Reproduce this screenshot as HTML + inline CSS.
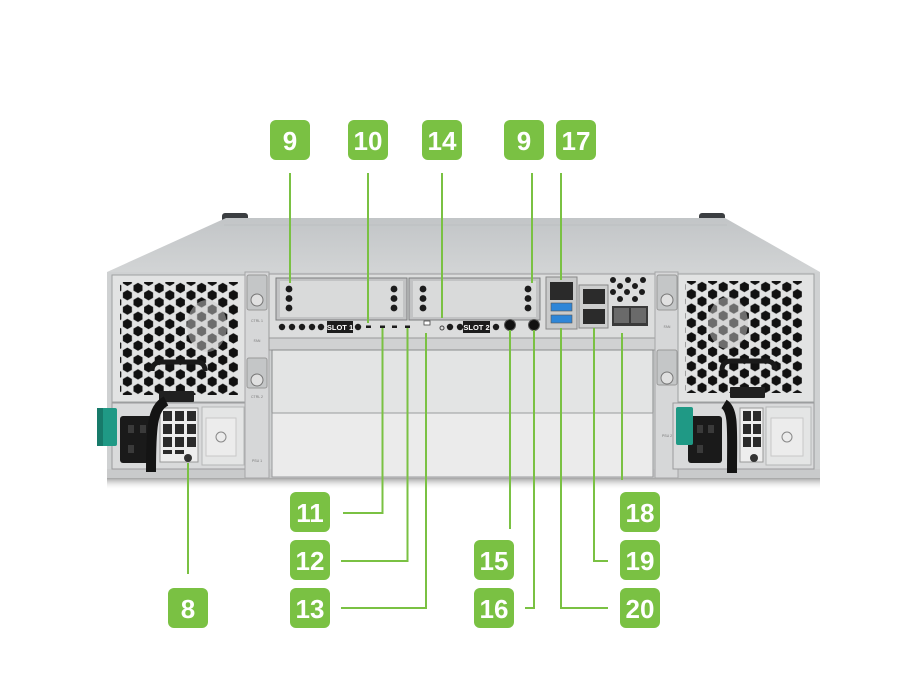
<!DOCTYPE html>
<html><head><meta charset="utf-8">
<style>
html,body{margin:0;padding:0;background:#fff;}
svg{display:block;}
.n{font-family:"Liberation Sans",sans-serif;font-weight:bold;font-size:26px;fill:#fff;text-anchor:middle;}
.t{font-family:"Liberation Sans",sans-serif;font-size:3.5px;fill:#777;text-anchor:middle;}
.s{font-family:"Liberation Sans",sans-serif;font-weight:bold;font-size:7.5px;fill:#fff;text-anchor:middle;}
.g{stroke:#7ac143;stroke-width:2;fill:none;}
</style></head><body>
<svg width="920" height="690" viewBox="0 0 920 690" xmlns="http://www.w3.org/2000/svg">
<defs>
<linearGradient id="lid" x1="0" y1="0" x2="0" y2="1">
 <stop offset="0" stop-color="#c2c5c7"/><stop offset="1" stop-color="#d2d4d5"/>
</linearGradient>
<linearGradient id="shadow" x1="0" y1="0" x2="0" y2="1">
 <stop offset="0" stop-color="#666" stop-opacity="0.6"/><stop offset="1" stop-color="#fff" stop-opacity="0"/>
</linearGradient>
<pattern id="hexL" patternUnits="userSpaceOnUse" x="132.7" y="284.4" width="21.2" height="14.4">
 <g fill="#111">
 <polygon points="0,-5.2 4.5,-2.6 4.5,2.6 0,5.2 -4.5,2.6 -4.5,-2.6" transform="translate(5.3,3.6)"/>
 <polygon points="0,-5.2 4.5,-2.6 4.5,2.6 0,5.2 -4.5,2.6 -4.5,-2.6" transform="translate(5.3,18)"/>
 <polygon points="0,-5.2 4.5,-2.6 4.5,2.6 0,5.2 -4.5,2.6 -4.5,-2.6" transform="translate(15.9,10.8)"/>
 <polygon points="0,-5.2 4.5,-2.6 4.5,2.6 0,5.2 -4.5,2.6 -4.5,-2.6" transform="translate(15.9,-3.6)"/>
 </g>
</pattern>
<pattern id="hexR" patternUnits="userSpaceOnUse" x="696.7" y="283.4" width="21.2" height="14.4">
 <g fill="#111">
 <polygon points="0,-5.2 4.5,-2.6 4.5,2.6 0,5.2 -4.5,2.6 -4.5,-2.6" transform="translate(5.3,3.6)"/>
 <polygon points="0,-5.2 4.5,-2.6 4.5,2.6 0,5.2 -4.5,2.6 -4.5,-2.6" transform="translate(5.3,18)"/>
 <polygon points="0,-5.2 4.5,-2.6 4.5,2.6 0,5.2 -4.5,2.6 -4.5,-2.6" transform="translate(15.9,10.8)"/>
 <polygon points="0,-5.2 4.5,-2.6 4.5,2.6 0,5.2 -4.5,2.6 -4.5,-2.6" transform="translate(15.9,-3.6)"/>
 </g>
</pattern>
</defs>

<rect width="920" height="690" fill="#fff"/>

<!-- lid -->
<rect x="222" y="213" width="26" height="12" rx="3" fill="#3b3e41"/>
<rect x="699" y="213" width="26" height="12" rx="3" fill="#3b3e41"/>
<polygon points="226,218 725,218 820,272 107,272" fill="url(#lid)"/>
<line x1="224" y1="225" x2="727" y2="225" stroke="#bcbfc1" stroke-width="1"/>

<!-- face -->
<rect x="107" y="272" width="713" height="206" fill="#cfd1d2"/>
<rect x="107" y="478" width="713" height="12" fill="url(#shadow)"/>
<rect x="107" y="469" width="713" height="9" fill="#c9cacb"/>

<!-- left fan module -->
<rect x="112" y="275" width="133" height="127" fill="#e2e3e3" stroke="#9fa1a2"/>
<rect x="120" y="282" width="118" height="113" fill="url(#hexL)"/>
<ellipse cx="207" cy="326" rx="20" ry="26" fill="#c9c9c9" opacity="0.5"/>
<path d="M152,371 Q152,362 162,362 L196,362 Q205,362 205,371" stroke="#1a1a1a" stroke-width="5" fill="none"/>
<rect x="159" y="391" width="35" height="11" rx="1" fill="#202020"/>

<!-- left PSU -->
<rect x="112" y="403" width="135" height="66" fill="#d9dadb" stroke="#9a9b9c"/>
<rect x="97" y="408" width="20" height="38" rx="2" fill="#1f9985"/>
<rect x="97" y="408" width="6" height="38" fill="#177a6a"/>
<rect x="120" y="416" width="36" height="47" rx="3" fill="#1a1a1a"/>
<rect x="128" y="425" width="6" height="8" fill="#3a3a3a"/>
<rect x="140" y="425" width="6" height="8" fill="#3a3a3a"/>
<rect x="128" y="445" width="6" height="8" fill="#3a3a3a"/>
<rect x="160" y="408" width="38" height="54" fill="#eeeeee" stroke="#999"/>
<g fill="#2b2b2b">
<rect x="163" y="411" width="9" height="10"/><rect x="175" y="411" width="9" height="10"/><rect x="187" y="411" width="9" height="10"/>
<rect x="163" y="424" width="9" height="10"/><rect x="175" y="424" width="9" height="10"/><rect x="187" y="424" width="9" height="10"/>
<rect x="163" y="437" width="9" height="10"/><rect x="175" y="437" width="9" height="10"/><rect x="187" y="437" width="9" height="10"/>
<rect x="163" y="450" width="9" height="4"/><rect x="175" y="450" width="9" height="4"/>
</g>
<path d="M166,401 C152,408 151,428 151,472" stroke="#141414" stroke-width="10" fill="none"/>
<circle cx="188" cy="458" r="4" fill="#333"/>
<rect x="202" y="407" width="42" height="58" fill="#e4e5e5" stroke="#b5b6b7"/>
<rect x="206" y="418" width="30" height="38" fill="#ececec" stroke="#c8c8c8"/>
<circle cx="221" cy="437" r="5" fill="none" stroke="#888"/>

<!-- left strip -->
<rect x="245" y="272" width="24" height="206" fill="#d6d7d8" stroke="#a5a6a7"/>
<rect x="247" y="275" width="20" height="35" rx="2" fill="#c4c6c7" stroke="#999"/>
<circle cx="257" cy="300" r="6" fill="#e0e0e0" stroke="#777"/>
<rect x="247" y="358" width="20" height="30" rx="2" fill="#c4c6c7" stroke="#999"/>
<circle cx="257" cy="380" r="6" fill="#e0e0e0" stroke="#777"/>
<text class="t" x="257" y="322">CTRL 1</text>
<text class="t" x="257" y="342">FAN</text>
<text class="t" x="257" y="398">CTRL 2</text>
<text class="t" x="257" y="462">PSU 1</text>

<!-- controller area -->
<rect x="269" y="274" width="386" height="64" fill="#dcdddd" stroke="#9b9c9d"/>
<rect x="276" y="278" width="131" height="42" fill="#c2c3c4" stroke="#7d7e7f"/>
<rect x="280" y="281" width="123" height="36" fill="#d9dada"/>
<rect x="409" y="278" width="131" height="42" fill="#c2c3c4" stroke="#7d7e7f"/>
<rect x="413" y="281" width="123" height="36" fill="#d9dada"/>
<g fill="#1c1c1c">
<circle cx="289" cy="289" r="3.4"/><circle cx="289" cy="298.5" r="3.4"/><circle cx="289" cy="308" r="3.4"/>
<circle cx="394" cy="289" r="3.4"/><circle cx="394" cy="298.5" r="3.4"/><circle cx="394" cy="308" r="3.4"/>
<circle cx="423" cy="289" r="3.4"/><circle cx="423" cy="298.5" r="3.4"/><circle cx="423" cy="308" r="3.4"/>
<circle cx="528" cy="289" r="3.4"/><circle cx="528" cy="298.5" r="3.4"/><circle cx="528" cy="308" r="3.4"/>
<circle cx="282" cy="327" r="3.2"/><circle cx="292" cy="327" r="3.2"/><circle cx="302" cy="327" r="3.2"/><circle cx="312" cy="327" r="3.2"/><circle cx="321" cy="327" r="3.2"/>
<circle cx="358" cy="327" r="3.2"/>
<circle cx="450" cy="327" r="3.2"/><circle cx="460" cy="327" r="3.2"/><circle cx="496" cy="327" r="3.2"/>
<rect x="366" y="325.5" width="5" height="2.5"/><rect x="380" y="325.5" width="5" height="2.5"/><rect x="392" y="325.5" width="5" height="2.5"/><rect x="405" y="325.5" width="5" height="2.5"/>
</g>
<rect x="327" y="321" width="26" height="12" fill="#1c1c1c"/>
<text class="s" x="340" y="330">SLOT 1</text>
<rect x="463" y="321" width="27" height="12" fill="#1c1c1c"/>
<text class="s" x="476.5" y="330">SLOT 2</text>
<rect x="424" y="321" width="6" height="4" fill="#fff" stroke="#444" stroke-width="0.8"/>
<circle cx="442" cy="328" r="2" fill="none" stroke="#444"/>
<circle cx="510" cy="325" r="5.5" fill="#111" stroke="#555"/>
<circle cx="534" cy="325" r="5.5" fill="#111" stroke="#555"/>

<!-- ports -->
<rect x="546" y="277" width="31" height="52" fill="#c9caca" stroke="#888"/>
<rect x="550" y="282" width="23" height="18" fill="#2a2a2a"/>
<rect x="551" y="303" width="21" height="8" fill="#2e86d8" stroke="#555" stroke-width="0.6"/>
<rect x="551" y="315" width="21" height="8" fill="#2e86d8" stroke="#555" stroke-width="0.6"/>
<rect x="579" y="285" width="29" height="43" fill="#cdcece" stroke="#888"/>
<rect x="583" y="289" width="22" height="15" fill="#2b2b2b"/>
<rect x="583" y="309" width="22" height="15" fill="#2b2b2b"/>
<rect x="612" y="306" width="36" height="20" fill="#3a3a3a"/>
<rect x="614" y="308" width="15" height="15" fill="#6a6a6a"/>
<rect x="631" y="308" width="15" height="15" fill="#6a6a6a"/>
<g fill="#1c1c1c">
<circle cx="613" cy="280" r="3"/><circle cx="628" cy="280" r="3"/><circle cx="643" cy="280" r="3"/>
<circle cx="620" cy="286" r="3"/><circle cx="635" cy="286" r="3"/>
<circle cx="627" cy="292" r="3"/><circle cx="642" cy="292" r="3"/><circle cx="613" cy="292" r="3"/>
<circle cx="620" cy="299" r="3"/><circle cx="635" cy="299" r="3"/>
</g>

<!-- rail and panels -->
<rect x="269" y="338" width="386" height="12" fill="#d0d1d2" stroke="#999"/>
<rect x="272" y="350" width="381" height="63" fill="#e3e4e4" stroke="#8a8b8c"/>
<rect x="272" y="413" width="381" height="64" fill="#ebebeb" stroke="#9a9b9c"/>

<!-- right strip -->
<rect x="655" y="272" width="23" height="206" fill="#d6d7d8" stroke="#a5a6a7"/>
<rect x="657" y="275" width="20" height="35" rx="2" fill="#c4c6c7" stroke="#999"/>
<circle cx="667" cy="300" r="6" fill="#e0e0e0" stroke="#777"/>
<rect x="657" y="350" width="20" height="35" rx="2" fill="#c4c6c7" stroke="#999"/>
<circle cx="667" cy="378" r="6" fill="#e0e0e0" stroke="#777"/>
<text class="t" x="667" y="328">FAN</text>
<text class="t" x="667" y="437">PSU 2</text>

<!-- right fan module -->
<rect x="678" y="274" width="136" height="128" fill="#e2e3e3" stroke="#9fa1a2"/>
<rect x="685" y="281" width="117" height="112" fill="url(#hexR)"/>
<ellipse cx="728" cy="323" rx="20" ry="26" fill="#c9c9c9" opacity="0.5"/>
<path d="M722,370 Q722,361 732,361 L766,361 Q775,361 775,370" stroke="#1a1a1a" stroke-width="5" fill="none"/>
<rect x="730" y="387" width="35" height="11" rx="1" fill="#202020"/>

<!-- right PSU -->
<rect x="673" y="403" width="141" height="66" fill="#d9dadb" stroke="#9a9b9c"/>
<rect x="688" y="416" width="34" height="47" rx="3" fill="#1a1a1a"/>
<rect x="697" y="425" width="6" height="8" fill="#3a3a3a"/>
<rect x="708" y="425" width="6" height="8" fill="#3a3a3a"/>
<rect x="697" y="445" width="6" height="8" fill="#3a3a3a"/>
<rect x="676" y="407" width="17" height="38" rx="2" fill="#1f9985"/>
<rect x="740" y="408" width="23" height="54" fill="#eeeeee" stroke="#999"/>
<g fill="#2b2b2b">
<rect x="743" y="411" width="8" height="10"/><rect x="753" y="411" width="8" height="10"/>
<rect x="743" y="424" width="8" height="10"/><rect x="753" y="424" width="8" height="10"/>
<rect x="743" y="437" width="8" height="10"/><rect x="753" y="437" width="8" height="10"/>
</g>
<path d="M724,404 C734,410 732,430 732,473" stroke="#141414" stroke-width="10" fill="none"/>
<circle cx="754" cy="458" r="4" fill="#333"/>
<rect x="766" y="407" width="45" height="58" fill="#e4e5e5" stroke="#b5b6b7"/>
<rect x="771" y="418" width="32" height="38" fill="#ececec" stroke="#c8c8c8"/>
<circle cx="787" cy="437" r="5" fill="none" stroke="#888"/>

<!-- connectors -->
<g class="g">
<line x1="290" y1="173" x2="290" y2="283"/>
<line x1="368" y1="173" x2="368" y2="323"/>
<line x1="442" y1="173" x2="442" y2="318"/>
<line x1="532" y1="173" x2="532" y2="283"/>
<line x1="561" y1="173" x2="561" y2="280"/>
<line x1="188" y1="463" x2="188" y2="574"/>
<polyline points="382.5,328 382.5,513 343,513"/>
<polyline points="407.5,328 407.5,561 341,561"/>
<polyline points="426,333 426,608 341,608"/>
<line x1="510" y1="330" x2="510" y2="529"/>
<polyline points="534,330 534,608 525,608"/>
<polyline points="561,328 561,608 608,608"/>
<polyline points="594,328 594,561 608,561"/>
<line x1="622" y1="333" x2="622" y2="480"/>
</g>

<!-- labels -->
<g fill="#7ac143">
<rect x="270" y="120" width="40" height="40" rx="6"/>
<rect x="348" y="120" width="40" height="40" rx="6"/>
<rect x="422" y="120" width="40" height="40" rx="6"/>
<rect x="504" y="120" width="40" height="40" rx="6"/>
<rect x="556" y="120" width="40" height="40" rx="6"/>
<rect x="290" y="492" width="40" height="40" rx="6"/>
<rect x="290" y="540" width="40" height="40" rx="6"/>
<rect x="290" y="588" width="40" height="40" rx="6"/>
<rect x="168" y="588" width="40" height="40" rx="6"/>
<rect x="474" y="540" width="40" height="40" rx="6"/>
<rect x="474" y="588" width="40" height="40" rx="6"/>
<rect x="620" y="492" width="40" height="40" rx="6"/>
<rect x="620" y="540" width="40" height="40" rx="6"/>
<rect x="620" y="588" width="40" height="40" rx="6"/>
</g>
<text class="n" x="290" y="150">9</text>
<text class="n" x="368" y="150">10</text>
<text class="n" x="442" y="150">14</text>
<text class="n" x="524" y="150">9</text>
<text class="n" x="576" y="150">17</text>
<text class="n" x="310" y="522">11</text>
<text class="n" x="310" y="570">12</text>
<text class="n" x="310" y="618">13</text>
<text class="n" x="188" y="618">8</text>
<text class="n" x="494" y="570">15</text>
<text class="n" x="494" y="618">16</text>
<text class="n" x="640" y="522">18</text>
<text class="n" x="640" y="570">19</text>
<text class="n" x="640" y="618">20</text>
</svg>
</body></html>
